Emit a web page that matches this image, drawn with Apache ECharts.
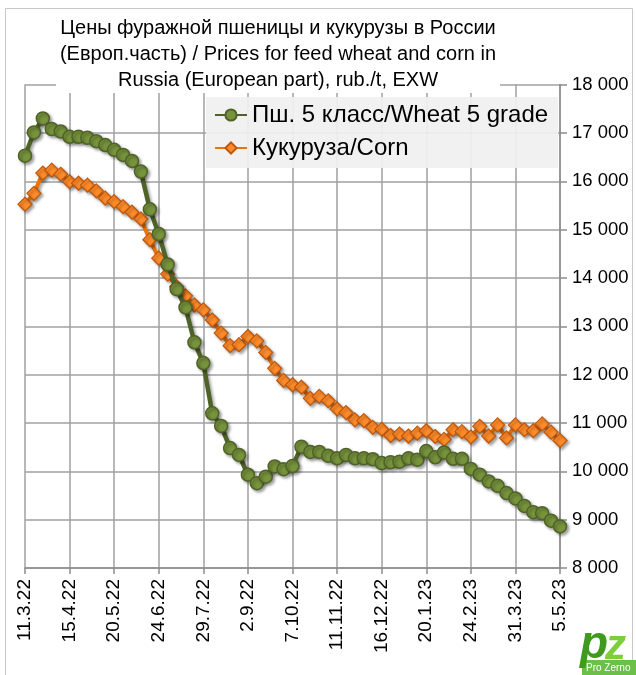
<!DOCTYPE html>
<html><head><meta charset="utf-8">
<script src="https://cdn.jsdelivr.net/npm/echarts@6/dist/echarts.min.js"></script>
<style>html,body{margin:0;padding:0;background:#fff}#c{width:636px;height:675px}</style>
</head><body><div id="c"></div>
<script>
var categories = ["11.3.22","18.3.22","25.3.22","1.4.22","8.4.22","15.4.22","22.4.22","29.4.22","6.5.22","13.5.22","20.5.22","27.5.22","3.6.22","10.6.22","17.6.22","24.6.22","1.7.22","8.7.22","15.7.22","22.7.22","29.7.22","5.8.22","12.8.22","19.8.22","26.8.22","2.9.22","9.9.22","16.9.22","23.9.22","30.9.22","7.10.22","14.10.22","21.10.22","28.10.22","4.11.22","11.11.22","18.11.22","25.11.22","2.12.22","9.12.22","16.12.22","23.12.22","30.12.22","6.1.23","13.1.23","20.1.23","27.1.23","3.2.23","10.2.23","17.2.23","24.2.23","3.3.23","10.3.23","17.3.23","24.3.23","31.3.23","7.4.23","14.4.23","21.4.23","28.4.23","5.5.23"];
var wheat = [16530,17010,17300,17080,17030,16920,16920,16900,16830,16750,16650,16545,16420,16200,15420,14910,14280,13770,13390,12670,12240,11200,10940,10480,10340,9930,9755,9890,10100,10045,10110,10510,10400,10400,10320,10270,10340,10270,10270,10250,10170,10190,10200,10270,10240,10420,10290,10390,10260,10260,10050,9930,9790,9700,9550,9440,9285,9155,9135,8980,8860];
var corn = [15525,15750,16170,16230,16145,15990,15960,15920,15800,15650,15580,15475,15360,15220,14790,14410,14080,13820,13630,13440,13340,13130,12860,12600,12620,12790,12700,12460,12130,11880,11790,11740,11510,11550,11460,11290,11215,11065,11050,10910,10870,10740,10770,10730,10790,10840,10720,10660,10860,10820,10710,10930,10730,10960,10690,10960,10860,10840,10980,10810,10640];
var seriesNames = ["Пш. 5 класс/Wheat 5 grade", "Кукуруза/Corn"];
var titleLines = ["Цены фуражной пшеницы и кукурузы в России", "(Европ.часть) / Prices for feed wheat and corn in", "Russia (European part), rub./t, EXW"];

var chart = echarts.init(document.getElementById('c'), null, {renderer: 'canvas'});
var F = 'Liberation Sans, Arial, sans-serif';
function fmt(v){ return String(v).replace(/\B(?=(\d{3})+(?!\d))/g, ' '); }
var shadow = {shadowColor: 'rgba(0,0,0,0.35)', shadowBlur: 3, shadowOffsetX: 2, shadowOffsetY: 2};
chart.setOption({
  animation: false,
  backgroundColor: '#fff',
  grid: {left: 25, right: 76, top: 84.6, bottom: 107, containLabel: false},
  legend: {
    orient: 'vertical', left: 206, top: 97,
    itemWidth: 32, itemHeight: 14, itemGap: 9,
    padding: [6, 10, 8, 8],
    backgroundColor: 'rgba(240,240,240,0.92)',
    textStyle: {fontFamily: F, fontSize: 24, color: '#000'},
    data: seriesNames
  },
  xAxis: {
    type: 'category', data: categories, boundaryGap: false,
    axisLine: {lineStyle: {color: '#8c8c8c', width: 1.5}},
    axisTick: {show: true, interval: 4, length: 6, lineStyle: {color: '#8c8c8c', width: 1.5}},
    axisLabel: {interval: 4, rotate: 90, margin: 11, fontFamily: F, fontSize: 19, color: '#000'},
    splitLine: {show: true, interval: 4, lineStyle: {color: '#a0a0a0', width: 1.5}}
  },
  yAxis: {
    type: 'value', position: 'right', min: 8000, max: 18000, interval: 1000,
    axisLine: {show: true, lineStyle: {color: '#8c8c8c', width: 1.5}},
    axisTick: {show: true, length: 7, lineStyle: {color: '#8c8c8c', width: 1.5}},
    axisLabel: {margin: 12, fontFamily: F, fontSize: 18.5, color: '#000', formatter: fmt},
    splitLine: {show: true, lineStyle: {color: '#a0a0a0', width: 1.5}}
  },
  series: [
    {
      name: seriesNames[0], type: 'line', data: wheat,
      symbol: 'circle', symbolSize: 13, z: 3, showAllSymbol: true,
      lineStyle: Object.assign({color: '#4f6228', width: 4.5}, shadow),
      itemStyle: Object.assign({color: '#77933c', borderColor: '#4f6228', borderWidth: 1.5}, shadow)
    },
    {
      name: seriesNames[1], type: 'line', data: corn,
      symbol: 'diamond', symbolSize: 14, z: 2, showAllSymbol: true,
      lineStyle: Object.assign({color: '#ee7306', width: 4}, shadow),
      itemStyle: Object.assign({color: '#ff8c2a', borderColor: '#c0560a', borderWidth: 1.2}, shadow)
    }
  ],
  graphic: [
    {type: 'rect', z: -1, silent: true, shape: {x: 5.5, y: 8.5, width: 627, height: 680}, style: {fill: 'none', stroke: '#c8c8c8', lineWidth: 1}},
    {type: 'text', z: 100, x: 278, y: 15, style: {text: titleLines.join('\n'), font: '20px ' + F, fill: '#000', textAlign: 'center', lineHeight: 26, backgroundColor: '#fff', padding: [0, 4, 0, 4]}},
    {type: 'rect', z: 100, shape: {x: 582, y: 660, width: 54, height: 15}, style: {fill: '#6cc04a'}},
    {type: 'text', z: 101, x: 580, y: 622, style: {text: 'p', font: 'bold italic 46px ' + F, fill: '#3f9a1e'}},
    {type: 'text', z: 101, x: 605, y: 626, style: {text: 'z', font: 'bold italic 42px ' + F, fill: '#7ccf3a'}},
    {type: 'text', z: 102, x: 586, y: 663, style: {text: 'Pro Zerno', font: '10px ' + F, fill: '#fff'}}
  ]
});
</script></body></html>
